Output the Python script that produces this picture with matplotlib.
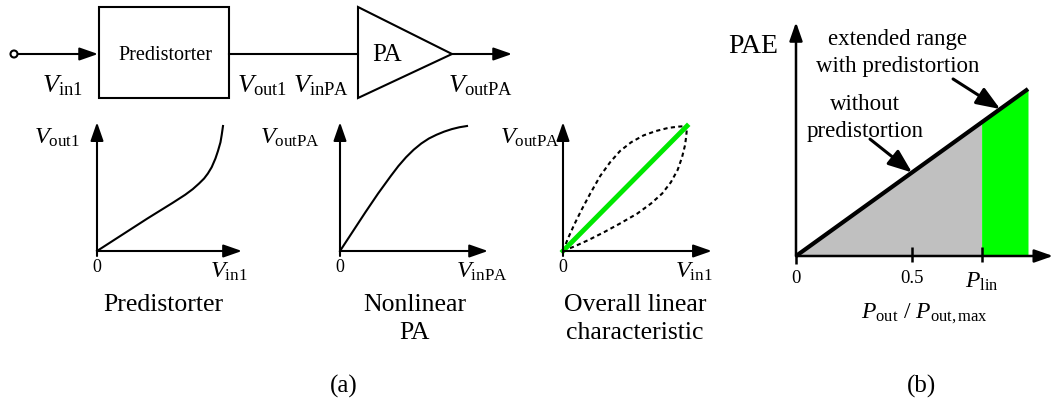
import numpy as np
import matplotlib.pyplot as plt

plt.rcParams['font.family'] = ['Liberation Serif', 'DejaVu Serif']
plt.rcParams['mathtext.fontset'] = 'custom'
plt.rcParams['mathtext.rm'] = 'Liberation Serif'
plt.rcParams['mathtext.it'] = 'Liberation Serif:italic'

W, H = 1055, 414

# predistorter characteristic (normalised V_in1 -> V_out1)
pd_x = [0, 0.2, 0.4, 0.6, 0.7, 0.76, 0.81, 0.85, 0.88, 0.91, 0.94, 0.96, 0.98, 0.99, 1.0]
pd_y = [0, 0.13, 0.26, 0.385, 0.45, 0.495, 0.54, 0.58, 0.62, 0.67, 0.74, 0.80, 0.87, 0.93, 1.0]

# nonlinear PA characteristic (normalised V_inPA -> V_outPA)
pa_x = [0, 0.1, 0.2, 0.3, 0.4, 0.46, 0.52, 0.58, 0.64, 0.70, 0.76, 0.82, 0.88, 0.94, 1.0]
pa_y = [0, 0.155, 0.31, 0.46, 0.60, 0.68, 0.75, 0.81, 0.86, 0.90, 0.93, 0.955, 0.975, 0.99, 1.0]

# overall characteristic: the two dotted envelopes and the linear result
up_x = [0, 0.04, 0.09, 0.15, 0.22, 0.30, 0.38, 0.46, 0.55, 0.65, 0.75, 0.85, 0.93, 1.0]
up_y = [0, 0.10, 0.21, 0.33, 0.46, 0.60, 0.71, 0.80, 0.87, 0.925, 0.96, 0.985, 0.995, 1.0]
lo_x = [0, 0.10, 0.21, 0.33, 0.46, 0.60, 0.71, 0.80, 0.87, 0.925, 0.96, 0.985, 0.995, 1.0]
lo_y = [0, 0.04, 0.09, 0.15, 0.22, 0.30, 0.38, 0.46, 0.55, 0.65, 0.75, 0.85, 0.93, 1.0]
lin_x = [0, 1.0]
lin_y = [0, 1.0]

# (b) PAE vs normalised output power
pout = [0, 1.0]
pae = [0, 1.0]
p_lin = 0.8
b_ticks = [0.5, p_lin]

fig = plt.figure(figsize=(W / 100, H / 100), dpi=100)

# overlay in pixel coordinates for the block diagram and the captions
ov = fig.add_axes([0, 0, 1, 1])
ov.set_xlim(0, W)
ov.set_ylim(H, 0)
ov.axis('off')

AST = '-|>,head_length=0.8,head_width=0.28'


def arrow(ax, start, end, lw=1.5, style=AST, ms=14):
    ax.annotate('', xy=end, xytext=start, annotation_clip=False,
                arrowprops=dict(arrowstyle=style, mutation_scale=ms, lw=lw,
                                color='k', shrinkA=0, shrinkB=0))


def px_axes(x0, y0, x1, y1):
    # x0,y0 = pixel of data origin, x1,y1 = pixel of data point (1, 1)
    a = fig.add_axes([x0 / W, 1 - y0 / H, (x1 - x0) / W, (y0 - y1) / H])
    a.set_xlim(0, 1)
    a.set_ylim(0, 1)
    a.axis('off')
    a.patch.set_alpha(0)
    return a


def vlabel(sym, sub):
    return r'$%s_{\mathrm{%s}}$' % (sym, sub)


def lines(x, baselines, texts, size):
    for y, t in zip(baselines, texts):
        ov.text(x, y, t, fontsize=size, ha='center', va='baseline')


# ---- block diagram
ov.add_patch(plt.Circle((14, 55), 3.5, fill=False, lw=1.5, color='k'))
arrow(ov, (18, 55), (98, 55))
ov.add_patch(plt.Rectangle((99, 8), 130, 91, fill=False, lw=1.5, ec='k'))
ov.plot([229, 358], [55, 55], color='k', lw=1.5)
ov.add_patch(plt.Polygon([(358, 8), (358, 99), (452, 55)], closed=True,
                         fill=False, lw=1.5, ec='k'))
arrow(ov, (452, 55), (512, 55))
ov.text(165, 55, 'Predistorter', fontsize=14.5, ha='center', va='center')
ov.text(387, 55, 'PA', fontsize=18, ha='center', va='center')
ov.text(62, 86, vlabel('V', 'in1'), fontsize=19, ha='center', va='center')
ov.text(262, 86, vlabel('V', 'out1'), fontsize=19, ha='center', va='center')
ov.text(321, 86, vlabel('V', 'inPA'), fontsize=19, ha='center', va='center')
ov.text(481, 86, vlabel('V', 'outPA'), fontsize=19, ha='center', va='center')

# ---- small characteristic plots
charts = [
    (97, 223, 1.15, 'out1', 'in1', 57, 229),
    (340, 467, 1.165, 'outPA', 'inPA', 290, 482),
    (563, 687, 1.2, 'outPA', 'in1', 530, 694),
]
axs = []
for x0, x1, xr, ylab, xlab, ylx, xlx in charts:
    a = px_axes(x0, 252, x1, 127)
    arrow(a, (0, -0.04), (0, 1.03))
    arrow(a, (0, 0), (xr, 0))
    ov.text(ylx, 138, vlabel('V', ylab), fontsize=17.5, ha='center', va='center')
    ov.text(xlx, 272, vlabel('V', xlab), fontsize=17.5, ha='center', va='center')
    ov.text(x0, 268, '0', fontsize=13, ha='center', va='center')
    axs.append(a)

axs[0].plot(pd_x, pd_y, color='k', lw=1.5, clip_on=False)
axs[1].plot(pa_x, pa_y, color='k', lw=1.5, clip_on=False)
axs[2].plot(up_x, up_y, color='k', lw=1.5, ls=(0, (2, 1.6)), clip_on=False)
axs[2].plot(lo_x, lo_y, color='k', lw=1.5, ls=(0, (2, 1.6)), clip_on=False)
axs[2].plot(lin_x, lin_y, color='#00e800', lw=3.5, clip_on=False)

lines(163, [311], ['Predistorter'], 18.5)
lines(415, [311, 339], ['Nonlinear', 'PA'], 18.5)
lines(635, [311, 339], ['Overall linear', 'characteristic'], 18.5)
ov.text(344, 386, '(a)', fontsize=18, ha='center', va='center')

# ---- (b) PAE
b = px_axes(796, 257, 1028, 90)
b.fill_between([0, p_lin], [0, 0], [0, p_lin], color='#c0c0c0', lw=0)
b.fill_between([p_lin, pout[1]], [0, 0], [p_lin, pae[1]], color='#00ff00', lw=0)
b.plot(pout, pae, color='k', lw=3, solid_capstyle='butt', clip_on=False)
arrow(b, (0, 0), (0, 1.40), lw=1.8)
arrow(b, (0, 0), (1.108, 0), lw=1.8)
b.vlines(b_ticks, -0.036, 0.054, color='k', lw=1.8, clip_on=False)
b.vlines([0], -0.05, 0, color='k', lw=1.8, clip_on=False)
AST2 = '-|>,head_length=0.9,head_width=0.35'
arrow(b, (0.677, 1.06), (0.88, 0.88), lw=2.2, style=AST2, ms=16)
arrow(b, (0.319, 0.70), (0.5, 0.5), lw=2.2, style=AST2, ms=16)

ov.text(753, 53, 'PAE', fontsize=20, ha='center', va='baseline')
lines(898, [45, 72], ['extended range', 'with predistortion'], 16.5)
lines(865, [110, 137], ['without', 'predistortion'], 16.5)
ov.text(796, 283, '0', fontsize=13.5, ha='center', va='baseline')
ov.text(912, 283, '0.5', fontsize=13.5, ha='center', va='baseline')
ov.text(982, 288, r'$P_{\mathrm{lin}}$', fontsize=17, ha='center', va='baseline')
ov.text(924, 318, r'$P_{\mathrm{out}}$ / $P_{\mathrm{out,max}}$', fontsize=17,
        ha='center', va='baseline')
ov.text(921, 386, '(b)', fontsize=18, ha='center', va='center')

fig.savefig('out.png', dpi=100)
